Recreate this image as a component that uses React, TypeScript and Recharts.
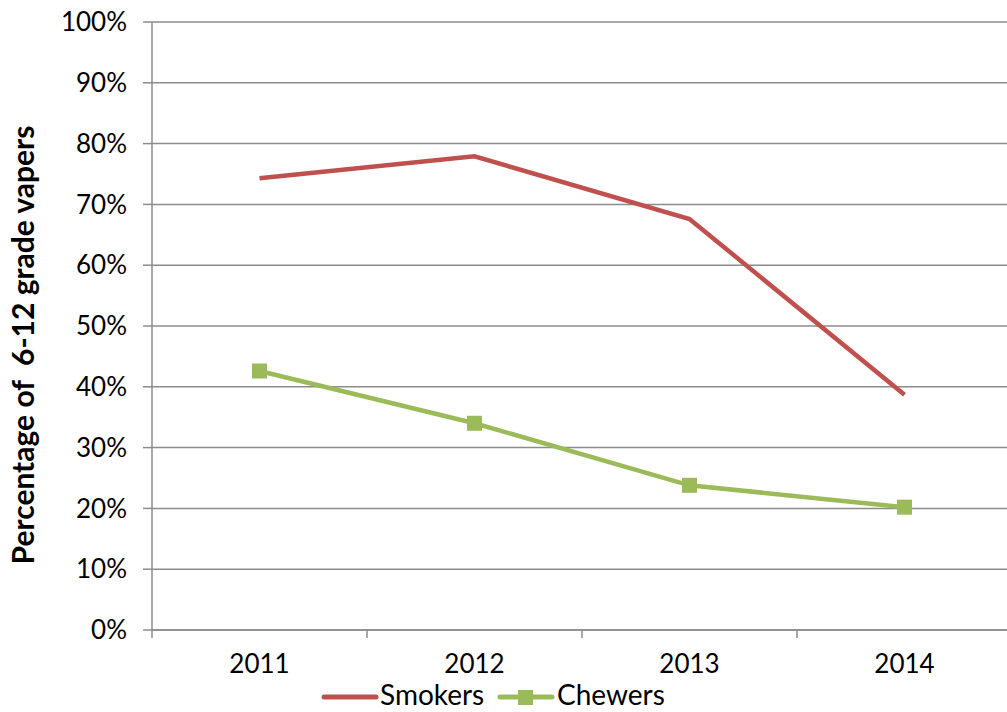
import { LineChart, Line, XAxis, YAxis, CartesianGrid, Legend } from "recharts";

const years = ["2011", "2012", "2013", "2014"];
const smokers = [0.743, 0.779, 0.676, 0.387];
const chewers = [0.426, 0.340, 0.238, 0.202];
const yTicks = [0, 0.1, 0.2, 0.3, 0.4, 0.5, 0.6, 0.7, 0.8, 0.9, 1];

const data = years.map((year, i) => ({ year, smokers: smokers[i], chewers: chewers[i] }));

const FONT = "Lato, 'Open Sans', sans-serif";
const GRID = "#8c8c8c";
const RED = "#c0504d";
const GREEN = "#9bbb59";

function XTick(props: any) {
  const { x, y, payload } = props;
  const half = payload.offset || 0;
  return (
    <g>
      <line x1={x - half} x2={x - half} y1={y - 8} y2={y} stroke={GRID} strokeWidth={1.5} />
      <text x={x} y={y + 35} textAnchor="middle" fontSize={26} fontFamily={FONT} fill="#000">
        {payload.value}
      </text>
    </g>
  );
}

function YLabel(props: any) {
  const { viewBox } = props;
  const cy = viewBox.y + viewBox.height / 2 + 19;
  return (
    <text
      x={22}
      y={cy}
      transform={`rotate(-90, 22, ${cy})`}
      textAnchor="middle"
      dominantBaseline="central"
      fontSize={30}
      fontWeight="bold"
      fontFamily={FONT}
      fill="#000"
      style={{ whiteSpace: "pre" }}
    >
      Percentage of  6-12 grade vapers
    </text>
  );
}

function LegendContent() {
  return (
    <svg width={1007} height={30} style={{ overflow: "visible" }}>
      <line x1={324} x2={376} y1={15} y2={15} stroke={RED} strokeWidth={5} strokeLinecap="round" />
      <text x={380} y={23} fontSize={28} fontFamily={FONT} fill="#000">Smokers</text>
      <line x1={500} x2={552} y1={15} y2={15} stroke={GREEN} strokeWidth={5} strokeLinecap="round" />
      <rect x={518} y={8} width={15} height={15} fill={GREEN} />
      <text x={557} y={23} fontSize={28} fontFamily={FONT} fill="#000">Chewers</text>
    </svg>
  );
}

export default function App() {
  return (
    <div style={{ position: "absolute", left: 0, top: 0, width: 1007, height: 712, overflow: "hidden", background: "#fff" }}>
      <LineChart width={1012} height={712} data={data} margin={{ top: 22, right: 0, bottom: 0, left: 0 }}>
        <CartesianGrid vertical={false} stroke={GRID} strokeWidth={1.5} />
        <XAxis
          dataKey="year"
          scale="band"
          height={52}
          axisLine={{ stroke: GRID, strokeWidth: 1.5 }}
          tickLine={false}
          tick={<XTick />}
          interval={0}
        />
        <YAxis
          width={152}
          domain={[0, 1]}
          ticks={yTicks}
          interval={0}
          tickFormatter={(v: number) => `${Math.round(v * 100)}%`}
          axisLine={{ stroke: GRID, strokeWidth: 1.5 }}
          tickLine={{ stroke: GRID, strokeWidth: 1.5 }}
          tickSize={9}
          tickMargin={16}
          tick={{ fontSize: 26, fontFamily: FONT, fill: "#000" }}
          label={<YLabel />}
        />
        <Legend verticalAlign="bottom" align="left" height={30} content={<LegendContent />} wrapperStyle={{ left: 0, bottom: 0 }} />
        <Line
          dataKey="smokers"
          stroke={RED}
          strokeWidth={4.5}
          dot={false}
          activeDot={false}
          isAnimationActive={false}
        />
        <Line
          dataKey="chewers"
          stroke={GREEN}
          strokeWidth={4.5}
          dot={(p: any) => <rect key={p.index} x={p.cx - 7.5} y={p.cy - 7.5} width={15} height={15} fill={GREEN} />}
          activeDot={false}
          isAnimationActive={false}
        />
      </LineChart>
    </div>
  );
}
